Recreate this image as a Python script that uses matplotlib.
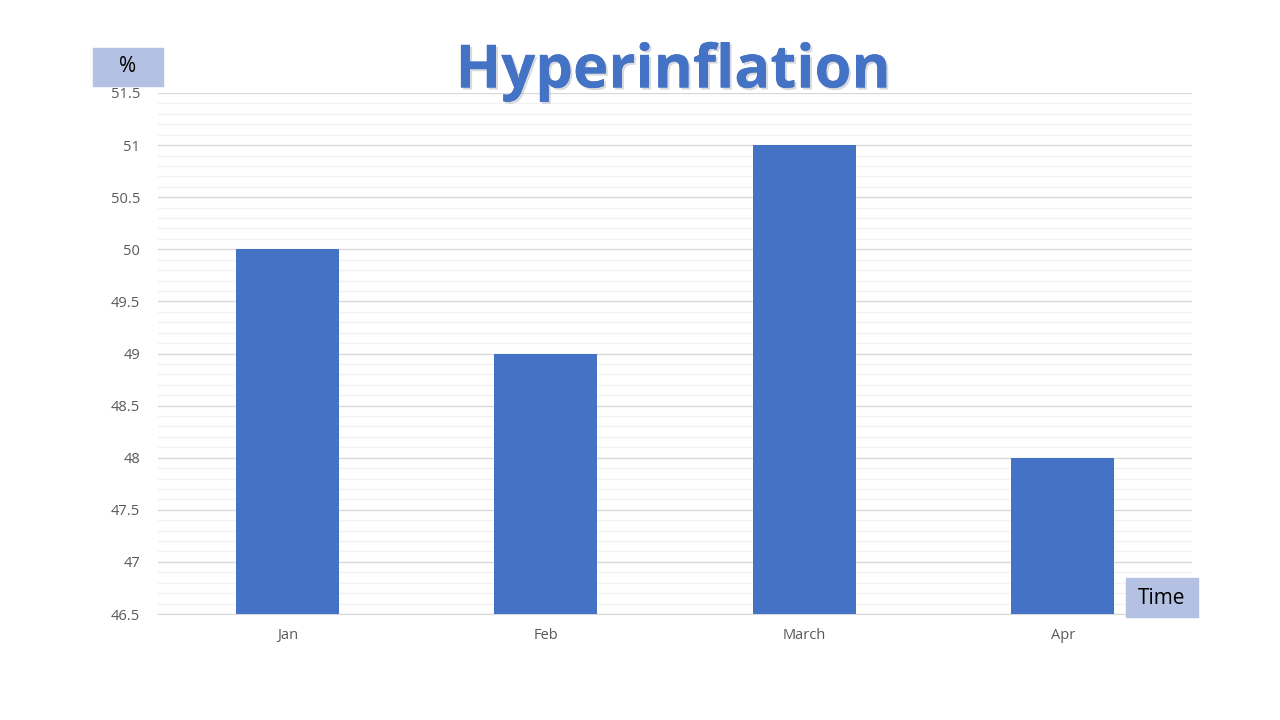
import numpy as np
import matplotlib
matplotlib.use('Agg')
from matplotlib import pyplot as plt
import matplotlib.patheffects as pe

# Chart data
months = ['Jan', 'Feb', 'March', 'Apr']
rates = [50, 49, 51, 48]
y_ticks = [46.5, 47, 47.5, 48, 48.5, 49, 49.5, 50, 50.5, 51, 51.5]

bar_color = '#4472C4'
box_color = '#B4C1E2'
tick_color = '#595959'

fig = plt.figure(figsize=(12.8, 7.2), dpi=100)
ax = fig.add_axes([158 / 1280, 1 - 614 / 720, 1034 / 1280, 521 / 720])

x = np.arange(len(months))
ax.bar(x, rates, width=0.4, color=bar_color, zorder=3)
ax.set_xlim(-0.5, len(months) - 0.5)
ax.set_ylim(46.5, 51.5)

# Major and minor gridlines
ax.set_yticks(y_ticks)
ax.set_yticklabels([('%g' % v) for v in y_ticks])
ax.set_yticks(np.arange(46.6, 51.5, 0.1), minor=True)
ax.yaxis.grid(True, which='major', color='#D9D9D9', linewidth=1.0, zorder=0)
ax.yaxis.grid(True, which='minor', color='#F2F2F2', linewidth=1.0, zorder=0)
ax.set_axisbelow(True)

ax.set_xticks(x)
ax.set_xticklabels(months)
ax.tick_params(axis='both', which='both', length=0, colors=tick_color, labelsize=10.5)
ax.tick_params(axis='x', pad=10)
ax.tick_params(axis='y', pad=13)
for lbl in ax.get_xticklabels() + ax.get_yticklabels():
    lbl.set_family('Open Sans')

for side in ['top', 'right', 'left']:
    ax.spines[side].set_visible(False)
ax.spines['bottom'].set_color('#D9D9D9')

# Title with soft shadow
fig.text(673 / 1280, 1 - 72 / 720, 'Hyperinflation', ha='center', va='center',
         fontsize=43, fontweight='bold', family='Open Sans', color=bar_color,
         path_effects=[pe.withSimplePatchShadow(offset=(1.5, -1.5), shadow_rgbFace='#B0B4BA', alpha=0.5),
                       pe.Normal()])

# Axis caption boxes
fig.patches.append(plt.Rectangle((93 / 1280, 1 - 86 / 720), 70 / 1280, 38 / 720,
                                 transform=fig.transFigure, color=box_color, zorder=5))
fig.text(128 / 1280, 1 - 67 / 720, '%', ha='center', va='center', fontsize=15,
         family='Open Sans', color='black', zorder=6)
fig.patches.append(plt.Rectangle((1126 / 1280, 1 - 617 / 720), 72 / 1280, 39 / 720,
                                 transform=fig.transFigure, color=box_color, zorder=5))
fig.text(1162 / 1280, 1 - 598 / 720, 'Time', ha='center', va='center', fontsize=15,
         family='Open Sans', color='black', zorder=6)

fig.savefig('out.png', dpi=100)
